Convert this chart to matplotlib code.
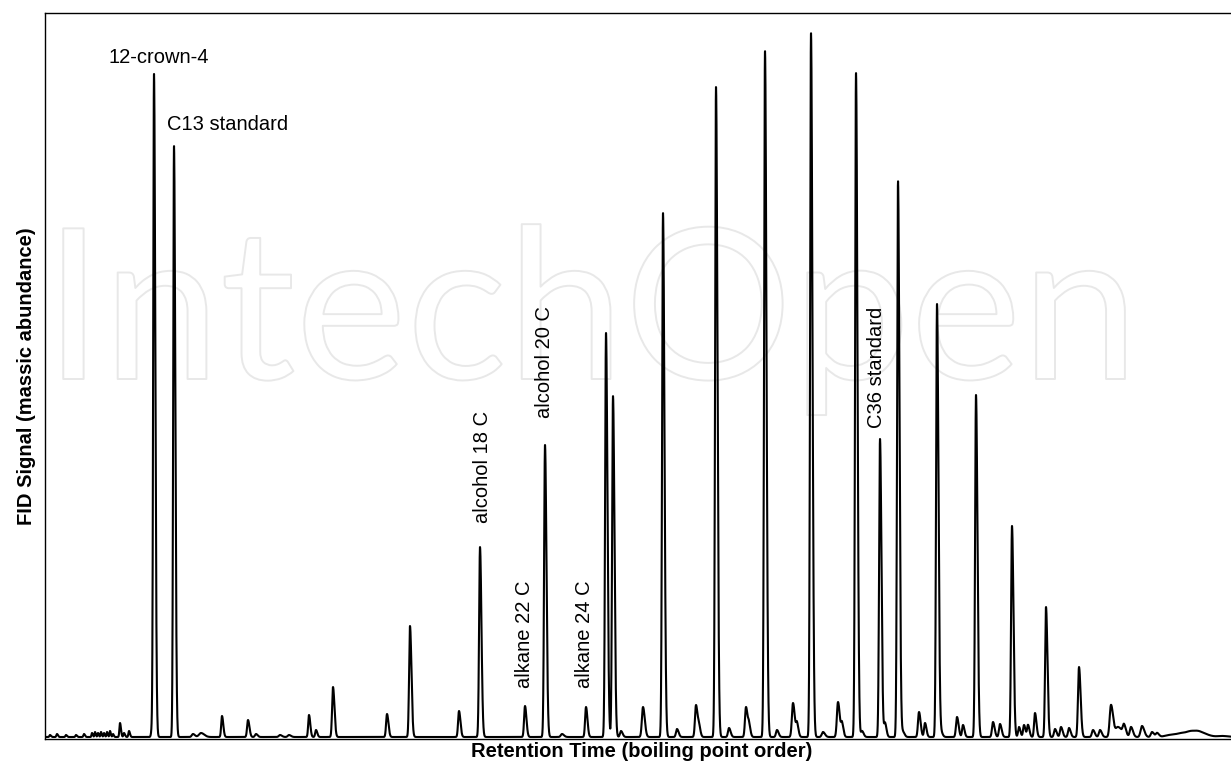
import matplotlib
matplotlib.use('Agg')
import matplotlib.pyplot as plt
import matplotlib.patheffects as pe
import numpy as np

# ── Peak table ───────────────────────────────────────────
# retention (arbitrary units), height (arbitrary abundance), width (sigma)
peak_rt = [50, 57, 66, 76, 84, 92, 95, 98, 101, 104, 107, 110, 113, 120, 124, 129,
           152, 154, 174, 193, 201, 222, 248, 256, 280, 289, 309, 316, 333,
           387, 410, 459, 480, 525, 545, 562, 586, 606, 613, 621, 643, 663,
           677, 696, 699, 716, 729, 746, 749, 765, 777, 793, 797, 811, 823,
           838, 842, 856, 862, 880, 885, 898, 903, 919, 925, 937, 941, 957,
           963, 976, 993, 1000, 1012, 1019, 1024, 1028, 1035, 1046, 1055, 1061,
           1069, 1079, 1093, 1100, 1111, 1118, 1124, 1131, 1142, 1152, 1157,
           1170, 1182, 1192, 1200, 1222]
peak_height = [2, 3, 2, 2, 3, 4, 5, 4, 5, 4, 5, 6, 3, 14, 4, 6,
               8, 661, 591, 3, 4, 21, 17, 3, 2, 2, 22, 7, 50,
               23, 111, 26, 190, 31, 292, 3, 30, 404, 341, 6, 30, 524,
               8, 32, 10, 650, 9, 30, 11, 686, 7, 34, 13, 704, 5,
               35, 13, 664, 6, 298, 14, 556, 5, 25, 14, 433, 5, 20,
               12, 342, 15, 13, 211, 10, 12, 12, 24, 130, 8, 10,
               9, 70, 7, 7, 32, 10, 10, 10, 11, 5, 4,
               2, 3, 4, 3, 1]
peak_width = [0.6, 0.6, 0.6, 0.6, 0.6, 0.5, 0.5, 0.5, 0.5, 0.5, 0.5, 0.5, 0.5, 0.6, 0.6, 0.6,
              0.8, 0.8, 0.8, 1.2, 2.0, 0.8, 0.9, 1.0, 1.2, 1.2, 0.8, 0.8, 0.9,
              0.9, 0.9, 0.9, 0.9, 0.9, 0.9, 1.2, 0.9, 0.9, 0.9, 1.0, 1.1, 0.9,
              1.0, 1.0, 0.9, 0.9, 1.0, 1.0, 0.9, 0.9, 1.0, 1.1, 0.9, 0.9, 1.2,
              1.1, 0.9, 0.9, 1.0, 0.9, 0.9, 0.9, 1.0, 1.0, 0.9, 0.9, 1.0, 1.0,
              0.9, 0.9, 1.0, 1.0, 0.9, 0.9, 0.9, 0.9, 0.9, 0.9, 1.0, 1.0,
              1.0, 1.0, 1.1, 1.1, 1.3, 2.5, 1.2, 1.2, 1.4, 1.2, 1.2,
              5.0, 5.0, 5.0, 5.0, 4.0]

# labelled peaks
label_text = ['12-crown-4', 'C13 standard', 'alcohol 18 C', 'alkane 22 C',
              'alcohol 20 C', 'alkane 24 C', 'C36 standard']
label_rt = [154, 174, 480, 525, 545, 586, 880]

# ── Trace ────────────────────────────────────────────────
t = np.linspace(45, 1231, 14000)
signal = np.zeros_like(t)
for rt, h, w in zip(peak_rt, peak_height, peak_width):
    sig = np.where(t < rt, w, w * 1.6)  # slight tailing
    signal += h * np.exp(-0.5 * ((t - rt) / sig) ** 2)

fig = plt.figure(figsize=(12.31, 7.66), dpi=100, facecolor='white')
ax = fig.add_axes([45 / 1231, 27 / 766, 1186 / 1231, 726 / 766])
ax.set_xlim(45, 1231)
ax.set_ylim(-2, 724)

ax.plot(t, signal, color='black', linewidth=1.5, zorder=3)

# ── Labels ───────────────────────────────────────────────
fs = 14.5
font = 'Liberation Sans'
hgt = dict(zip(peak_rt, peak_height))

ax.annotate(label_text[0], xy=(label_rt[0], hgt[label_rt[0]]), xytext=(4.5, 13),
            textcoords='offset pixels', ha='center', va='baseline',
            fontsize=fs, family=font)
ax.annotate(label_text[1], xy=(label_rt[1], hgt[label_rt[1]]), xytext=(-7, 16),
            textcoords='offset pixels', ha='left', va='baseline',
            fontsize=fs, family=font)

vert_offsets = [(2.5, 24), (-1, 18), (0, 27), (-2, 19), (-4, 11)]
for txt, rt, (dx, dy) in zip(label_text[2:], label_rt[2:], vert_offsets):
    ax.annotate(txt, xy=(rt, hgt[rt]), xytext=(dx, dy),
                textcoords='offset pixels', ha='center', va='bottom',
                rotation=90, fontsize=fs, family=font)

# ── Axes styling ─────────────────────────────────────────
ax.set_xticks([])
ax.set_yticks([])
ax.spines['right'].set_visible(False)
for s in ['left', 'top', 'bottom']:
    ax.spines[s].set_linewidth(1.0)
    ax.spines[s].set_color('black')

ax.set_xlabel('Retention Time (boiling point order)', fontsize=fs,
              fontweight='bold', family=font)
ax.xaxis.set_label_coords(597 / 1186, -3 / 726)
ax.xaxis.label.set_va('top')
ax.set_ylabel('FID Signal (massic abundance)', fontsize=fs,
              fontweight='bold', family=font)
ax.yaxis.set_label_coords(-9 / 1186, 0.5)

# ── Faint watermark ──────────────────────────────────────
wm = ax.text(-1 / 1186, (739 - 379) / 726, 'IntechOpen', transform=ax.transAxes,
             ha='left', va='baseline', fontsize=150, family='Lato',
             color='none', zorder=0,
             path_effects=[pe.Stroke(linewidth=1.4, foreground='#e8e8e8')])
r = fig.canvas.get_renderer()
bb = wm.get_window_extent(r)
wm.set_fontsize(150 * 1095 / bb.width)

fig.savefig('out.png', dpi=100, facecolor='white')
